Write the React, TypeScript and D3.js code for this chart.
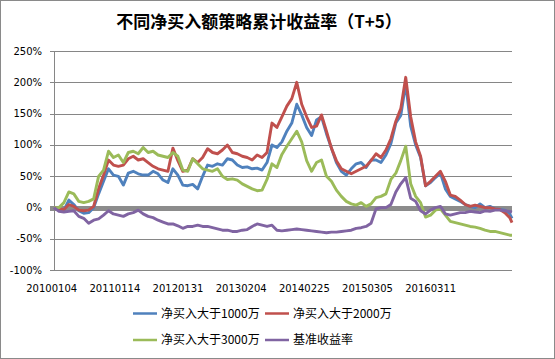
import React from "react";
import * as d3 from "d3";

const title = "不同净买入额策略累计收益率（T+5）";
const tickLabels = ["20100104", "20110114", "20120131", "20130204", "20140225", "20150305", "20160311"];
const tickEvery = 255; // trading days between labels
const lastDay = 1849;
const sampleStep = 20;
const yTicks = [-100, -50, 0, 50, 100, 150, 200, 250];

const seriesNames = ["净买入大于1000万", "净买入大于2000万", "净买入大于3000万", "基准收益率"];
const seriesColors = ["#4F81BD", "#C0504D", "#9BBB59", "#8064A2"];

const blue = [0, -3, -4, 12, 5, -5, -9, -8, 0, 22, 42, 62, 52, 50, 36, 55, 58, 54, 52, 52, 58, 54, 44, 40, 62, 52, 36, 35, 37, 30, 50, 68, 66, 70, 68, 78, 76, 68, 64, 65, 62, 63, 60, 72, 100, 96, 105, 122, 135, 165, 148, 128, 115, 140, 145, 118, 95, 72, 58, 52, 62, 70, 72, 64, 76, 76, 72, 84, 102, 135, 147, 198, 130, 100, 80, 35, 40, 48, 55, 30, 18, 14, 10, 5, 2, 0, 6, 0, 2, -2, -3, -4, -10, -17];
const red = [0, -2, -3, 5, 2, -4, -5, -4, 2, 30, 52, 76, 68, 66, 68, 78, 82, 76, 78, 72, 66, 62, 60, 58, 95, 75, 58, 60, 78, 72, 80, 94, 88, 86, 92, 100, 88, 86, 82, 80, 76, 84, 80, 88, 135, 128, 145, 162, 174, 200, 165, 145, 128, 130, 148, 122, 95, 75, 62, 58, 54, 58, 62, 66, 75, 86, 80, 92, 110, 138, 158, 208, 145, 105, 82, 35, 42, 50, 58, 42, 20, 18, 12, 5, 2, 4, 2, 0, 0, -2, -3, -8, -16, -24];
const green = [0, 0, 8, 25, 22, 10, 8, 10, 14, 50, 60, 90, 80, 84, 72, 88, 90, 86, 96, 88, 90, 84, 82, 80, 88, 82, 60, 58, 78, 70, 62, 60, 58, 62, 50, 45, 46, 44, 38, 34, 30, 27, 28, 45, 70, 64, 85, 98, 110, 122, 105, 75, 58, 72, 76, 50, 42, 28, 18, 10, 6, 4, 8, 2, 6, 16, 18, 22, 45, 55, 75, 98, 38, 18, 8, -15, -12, -4, -2, -12, -22, -24, -26, -28, -30, -31, -33, -36, -38, -38, -40, -42, -44, -44];
const purple = [0, -6, -7, -6, -5, -14, -17, -25, -20, -18, -12, -5, -10, -12, -14, -10, -8, -4, -10, -14, -16, -20, -23, -26, -26, -29, -33, -30, -30, -28, -30, -30, -32, -34, -36, -36, -38, -38, -36, -35, -30, -26, -28, -30, -28, -36, -37, -36, -35, -34, -35, -36, -37, -38, -39, -40, -39, -39, -38, -37, -36, -33, -32, -30, -25, -2, 0, 0, 5, 25, 38, 48, 15, 10, -5, -10, -4, 0, 2, -10, -12, -10, -8, -8, -6, -7, -8, -5, -6, -4, -4, -5, -6, -7];

const allSeries = [blue, red, green, purple];

export default function App() {
  const W = 555, H = 359;
  const left = 54, right = 512, top = 51, bottom = 270.3;
  const x = d3.scaleLinear().domain([0, lastDay]).range([left, right]);
  const y = d3.scaleLinear().domain([-100, 250]).range([bottom, top]);
  const line = d3
    .line<number>()
    .x((_, i) => x(Math.min(i * sampleStep, lastDay)))
    .y((d) => y(d));
  const axisFont = "'DejaVu Sans', Verdana, sans-serif";
  const cjkFont = "'Noto Sans CJK SC', sans-serif";

  const legendItems = seriesNames.map((name, i) => ({
    name,
    color: seriesColors[i],
    col: i % 2,
    row: Math.floor(i / 2),
  }));

  return (
    <svg width={W} height={H} style={{ position: "absolute", left: 0, top: 0 }}>
      <rect x={0.5} y={0.5} width={W - 1} height={H - 1} fill="#fff" stroke="#8a8a8a" />
      <text
        x={259}
        y={28}
        textAnchor="middle"
        fontFamily={cjkFont}
        fontWeight="bold"
        fontSize={17}
        fill="#000"
      >
        {title}
      </text>
      {yTicks.map((t) => (
        <g key={t}>
          {t !== 0 && (
            <line x1={left - 4} x2={right} y1={Math.round(y(t)) + 0.5} y2={Math.round(y(t)) + 0.5} stroke="#868686" strokeWidth={1} />
          )}
          <text
            x={42}
            y={y(t) + 3.5}
            textAnchor="end"
            fontFamily={axisFont}
            fontSize={10}
            fill="#000"
          >
            {t + "%"}
          </text>
        </g>
      ))}
      <line x1={left - 4} x2={right} y1={y(0) + 0.8} y2={y(0) + 0.8} stroke="#8c8c8c" strokeWidth={5} />
      <line x1={left + 0.5} x2={left + 0.5} y1={top} y2={bottom} stroke="#868686" strokeWidth={1} />
      {tickLabels.map((lab, i) => (
        <text
          key={lab}
          x={x(i * tickEvery) - 2.3}
          y={292}
          textAnchor="middle"
          fontFamily={axisFont}
          fontSize={10}
          fill="#000"
        >
          {lab}
        </text>
      ))}
      {allSeries.map((s, i) => (
        <path
          key={i}
          d={line(s) || ""}
          fill="none"
          stroke={seriesColors[i]}
          strokeWidth={2.9}
          strokeLinejoin="round"
        />
      ))}
      {legendItems.map((it) => {
        const lx = 133 + it.col * 132;
        const ly = 313.5 + it.row * 26.5;
        return (
          <g key={it.name}>
            <line x1={lx} x2={lx + 24} y1={ly} y2={ly} stroke={it.color} strokeWidth={2.5} />
            <text x={lx + 28} y={ly + 4.3} fontFamily={cjkFont} fontSize={12} fill="#000">
              {it.name}
            </text>
          </g>
        );
      })}
    </svg>
  );
}
